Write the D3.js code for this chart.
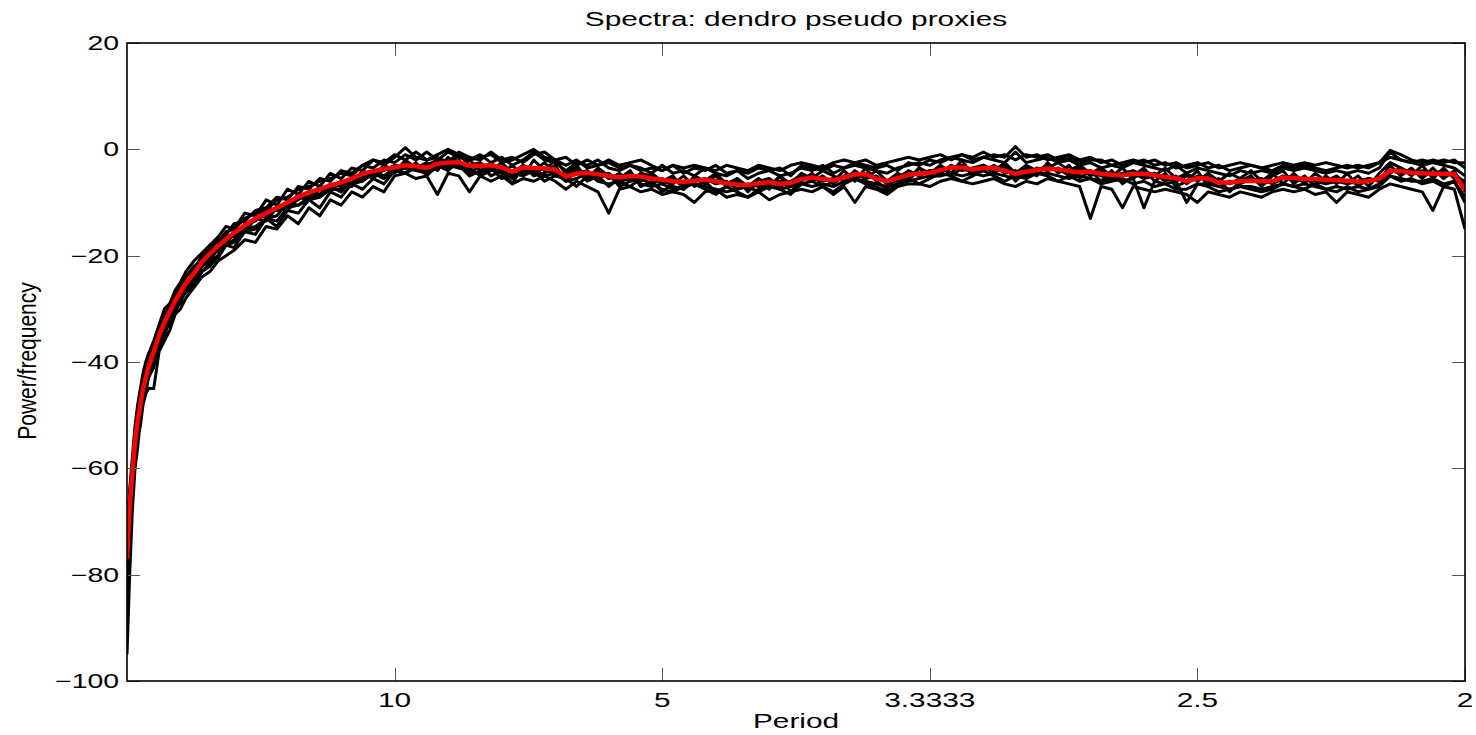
<!DOCTYPE html>
<html lang="en">
<head>
<meta charset="utf-8">
<title>Spectra: dendro pseudo proxies</title>
<script src="https://d3js.org/d3.v7.min.js"></script>
<style>
  body { margin: 0; background: #fff; }
  text { font-family: "Liberation Sans", Arial, sans-serif; fill: #000; }
</style>
</head>
<body>
<script>
// frequency (cycles/yr); period = 1/f
const freq = [
  0,0.001,0.002,0.003,0.004,0.005,0.006,0.007,0.008,0.010,
  0.012,0.014,0.016,0.018,0.020,0.022,0.025,0.028,0.031,0.034,
  0.037,0.040,0.044,0.048,0.052,0.056,0.060,0.064,0.068,0.072,
  0.076,0.080,0.084,0.088,0.092,0.096,0.100,0.104,0.108,0.112,
  0.116,0.120,0.124,0.128,0.132,0.136,0.140,0.144,0.148,0.152,
  0.156,0.160,0.164,0.168,0.172,0.176,0.180,0.184,0.188,0.192,
  0.196,0.200,0.204,0.208,0.212,0.216,0.220,0.224,0.228,0.232,
  0.236,0.240,0.244,0.248,0.252,0.256,0.260,0.264,0.268,0.272,
  0.276,0.280,0.284,0.288,0.292,0.296,0.300,0.304,0.308,0.312,
  0.316,0.320,0.324,0.328,0.332,0.336,0.340,0.344,0.348,0.352,
  0.356,0.360,0.364,0.368,0.372,0.376,0.380,0.384,0.388,0.392,
  0.396,0.400,0.404,0.408,0.412,0.416,0.420,0.424,0.428,0.432,
  0.436,0.440,0.444,0.448,0.452,0.456,0.460,0.464,0.468,0.472,
  0.476,0.480,0.484,0.488,0.492,0.496,0.500
];

// individual pseudo proxy spectra (dB)
const proxyA = [
  -95,-80,-68,-60,-56,-51,-47,-46,-43,-41,
  -36,-34,-33,-30,-29,-26,-25,-22,-21,-20,
  -18,-17,-15,-14.5,-13,-12.5,-10,-10.5,-9,-8.5,
  -7,-8,-6,-5.5,-4,-5,-3.5,-4.5,-2.5,-5,
  -3,-4,-2,-4.5,-3,-5,-4,-6.5,-3,-5,
  -4.5,-3,-6,-4,-6,-5,-7,-5.5,-4,-7,
  -6,-8,-6.5,-5,-7,-6,-8,-7,-5.5,-8,
  -6,-7.5,-5,-8,-6,-4.5,-7,-6,-4,-6,
  -3.5,-6,-7.5,-5,-6,-3.5,-5,-3,-4.5,-2,
  -5,-3,-4.5,-3,-6,-4,-5,-2.5,-4.5,-3,
  -5.5,-4,-6,-4,-6.5,-5,-3.5,-6,-4.5,-7,
  -6,-4,-7,-5.5,-8,-6,-5,-7,-5,-4,
  -6.5,-5,-7,-5,-6.5,-4.5,-7,-5.5,-6,-3,
  -5,-3.5,-5.5,-3.5,-5.5,-4,-8
];
const proxyB = [
  -84,-70,-62,-56,-50,-47,-44,-42,-40,-37,
  -35,-31,-30,-27,-26,-24,-22,-21,-18,-17.5,
  -15.5,-15,-13,-12,-11.5,-9.5,-9,-7.5,-7,-6,
  -5.5,-4.5,-5,-3,-3.5,-2,-2.5,-1,-2,-0.5,
  -2,-0.5,-1.5,-2,-1,-2.5,-1.5,-3,-2,-0.5,
  -2,-2.5,-4,-2.5,-3,-2,-3.5,-4,-3,-3.5,
  -4.5,-3,-4.5,-4,-5,-3.5,-4.5,-5,-4,-5.5,
  -4.5,-4,-5,-4.5,-3.5,-4,-3,-4.5,-3.5,-3,
  -3.5,-4,-4.5,-3.5,-3,-2.5,-3,-2,-1.5,-2,
  -2.5,-1.5,-2,-2.5,-0.5,-2.5,-2,-1.5,-2.5,-2,
  -3,-2.5,-3.5,-3,-3.5,-2.5,-3,-3.5,-4,-3,
  -4.5,-3.5,-4,-4.5,-5,-4,-4.5,-4,-4.5,-3.5,
  -4,-3.5,-4,-4.5,-4,-4.5,-4,-4.5,-3.5,-0.5,
  -2,-2.5,-3,-2.5,-3,-3.5,-5
];
const proxyC = [
  -80,-72,-64,-59,-54,-52,-48,-46,-45,-45,
  -38,-36,-34,-31,-30,-28,-26,-24,-23,-21,
  -20,-19,-17,-17.5,-14.5,-15,-12.5,-14,-11,-12.5,
  -9.5,-10.5,-8,-9,-7,-8,-5,-4.5,-5.5,-5,
  -8.5,-4.5,-5,-8,-5,-6,-5,-6.5,-5.5,-6,
  -5,-6,-7.5,-6,-7,-8,-12,-7.5,-7,-8,
  -7.5,-8.5,-8,-8.5,-10,-8,-7.5,-9,-8.5,-9,
  -8,-9.5,-8.5,-8,-7.5,-8,-7,-8.5,-7,-10,
  -7,-7.5,-8.5,-7,-6.5,-6.5,-7,-6,-5.5,-6,
  -6.5,-6,-5.5,-6.5,-7,-6,-6.5,-5.5,-6,-6.5,
  -7,-13,-7,-7.5,-11,-7,-7.5,-8,-7.5,-8,
  -8.5,-10,-8,-8.5,-9,-8,-8.5,-9,-8,-7.5,
  -8,-7.5,-8.5,-8,-10,-8,-8.5,-9,-7.5,-6.5,
  -7,-7.5,-8,-11.5,-7,-7.5,-15
];
const proxyD = [
  -78,-66,-60,-53,-50,-46,-44,-42,-40,-38.5,
  -34,-33,-31,-28,-27.5,-25,-24,-20.5,-20,-18.5,
  -16,-16.5,-14,-13.5,-11,-11.5,-10.5,-8.5,-9,-7,
  -7.5,-6,-6.5,-4,-5,-3,-4,-2.5,-4,-3,
  -2,-3.5,-1,-3,-2.5,-4,-2.5,-4.5,-3,-4,
  -2.5,-4.5,-5,-3.5,-5,-4,-5.5,-4.5,-6,-4.5,
  -5,-6.5,-5.5,-7,-5.5,-6.5,-5,-7,-6,-7.5,
  -6,-5.5,-7,-6,-5,-6,-5,-6.5,-5,-4.5,
  -5.5,-5,-6.5,-5.5,-4,-5,-4,-4.5,-3,-4,
  -3.5,-3,-4,-3.5,-4.5,-3.5,-4,-3,-4,-4.5,
  -3.5,-5,-4,-5,-4.5,-4,-5,-4.5,-6,-5,
  -6.5,-5,-6,-7,-6,-6.5,-5.5,-6.5,-6,-5,
  -6,-5.5,-6,-6.5,-6,-6.5,-6,-5.5,-6,-4,
  -4.5,-4,-5,-4.5,-4,-5,-6
];
const proxyE = [
  -76,-64,-58,-52,-48,-45,-42,-40,-38.5,-36,
  -33,-30,-29,-26.5,-25,-23,-21,-19.5,-18,-16.5,
  -14.5,-15,-12,-12.5,-9.5,-10.5,-7.5,-8.5,-6,-7,
  -4.5,-5.5,-3.5,-4,-2,-3,-1.5,0.3,-1.5,-2,
  -1,0,-1,-2,-1.5,-1,-2.5,-2,-1,0,
  -1.5,-2,-3,-2,-3.5,-3,-2.5,-3.5,-3,-4,
  -3.5,-4,-3,-4.5,-3.5,-4,-3,-4.5,-4,-4.5,
  -3.5,-4,-3.5,-5,-3,-3.5,-4,-3,-3.5,-2.5,
  -3,-3.5,-3,-4,-2.5,-3,-2,-2.5,-1.5,-1,
  -2,-1.5,-1,-1.5,0.5,-1.5,-1,-2,-1.5,-1,
  -2,-1.5,-2.5,-2,-3,-2.5,-2,-3,-2.5,-3.5,
  -3,-2.5,-3.5,-3,-4,-3.5,-3,-3.5,-4,-3,
  -3.5,-3,-3.5,-4,-3.5,-3,-3.5,-3,-2.5,-0.2,
  -1,-2,-2.5,-2,-2.5,-2,-3.5
];
const proxyF = [
  -74,-69,-63,-57,-53,-49,-47,-44,-42.5,-39,
  -37,-35,-32,-31,-28,-27,-25.5,-23,-22,-20,
  -18,-18.5,-15.5,-16,-13,-14.5,-11.5,-12,-9.5,-11,
  -8,-9,-6.5,-7.5,-5.5,-6.5,-4,-3.5,-4,-4.5,
  -3.5,-3,-3.5,-4,-4.5,-3.5,-4.5,-5,-4.5,-3.5,
  -5,-4.5,-6,-5.5,-4.5,-6,-6.5,-6,-5.5,-6.5,
  -7,-6.5,-7.5,-7,-6.5,-7,-7.5,-8,-7.5,-7,
  -8,-7,-7.5,-7,-6.5,-7,-6.5,-7,-6,-5.5,
  -6,-6.5,-7,-6.5,-6,-5.5,-5,-5,-4.5,-5,
  -4.5,-5,-4.5,-5,-5.5,-5,-4.5,-4.5,-5,-5.5,
  -5,-5.5,-6,-5.5,-6,-5.5,-11,-6,-6.5,-6,
  -10,-6.5,-6.5,-7,-7.5,-7,-7,-7.5,-7,-6.5,
  -7,-6.5,-7,-7.5,-7,-7.5,-7,-7.5,-7,-5,
  -5.5,-6,-6,-5.5,-6.5,-6,-9
];
const proxyG = [
  -72,-65,-59,-54,-49,-46,-43,-41,-39,-37,
  -34,-31.5,-29,-27.5,-25.5,-24,-22.5,-20,-19,-17,
  -16,-14,-13.5,-11.5,-11,-9,-9.5,-7,-7.5,-5.5,
  -6,-4,-4.5,-3,-2,-2.5,-1,-2,-0.5,-2,
  -1.5,-2.5,-0.5,-1.5,-2,-0.5,-2,-1.5,-2.5,-1,
  -0.5,-2,-1.5,-3,-2,-3,-2,-3,-2.5,-2,
  -3,-4,-3,-3.5,-3,-3.5,-4,-3,-3.5,-4,
  -3,-3.5,-4,-3,-2.5,-3,-3.5,-2.5,-2,-2.5,
  -2,-3,-2.5,-2,-1.5,-2,-1.5,-1,-2,-1,
  -1.5,-0.5,-1.5,-1,-2,-1,-1.5,-1,-2,-1.5,
  -2.5,-2,-2,-3,-2.5,-2,-2.5,-2,-3,-2.5,
  -3.5,-3,-2.5,-3.5,-3,-2.5,-3,-3.5,-3,-2.5,
  -3,-2.5,-3,-2.5,-3,-3.5,-3,-3.5,-2.5,-1.5,
  -2,-2.5,-2,-2.5,-2,-2.5,-2.5
];
const proxyH = [
  -79,-71,-65,-58,-52,-50,-46,-44.5,-42,-40,
  -36,-34,-31.5,-29.5,-27,-26,-23.5,-22,-20.5,-19,
  -17.5,-16,-15,-13,-12.5,-11,-10.5,-9.5,-8,-8.5,
  -6.5,-7,-5.5,-5,-4.5,-4,-3,-3.5,-3,-4,
  -3.5,-2.5,-3,-3.5,-5,-4,-3.5,-5.5,-4,-4.5,
  -3.5,-5,-5.5,-4.5,-4,-5.5,-4.5,-7,-6,-5.5,
  -6.5,-5.5,-7,-7.5,-6,-5.5,-6.5,-6,-7.5,-6.5,
  -7,-6.5,-6,-7,-5.5,-5,-6,-5.5,-5.5,-5,
  -4.5,-5.5,-6,-6,-5,-4.5,-4,-4,-3.5,-3,
  -4,-4,-3,-4.5,-4,-5,-3.5,-4,-3.5,-5,
  -4.5,-4,-5,-5.5,-5,-4.5,-5.5,-5,-5.5,-6,
  -5,-5.5,-5,-6,-6.5,-5.5,-6,-5.5,-6.5,-5.5,
  -5,-6,-5.5,-6,-5.5,-6,-6.5,-6,-5.5,-4.5,
  -3.5,-4.5,-4,-4.5,-5,-4.5,-6.5
];
const proxyI = [
  -88,-74,-64,-57,-52,-48,-45,-43,-41,-39,
  -35.5,-33,-32,-28.5,-28,-25,-24.5,-21.5,-21,-18.5,
  -17.5,-15.5,-15.5,-13,-13.5,-11,-11.5,-9,-9.5,-7.5,
  -8,-6,-7,-4.5,-5.5,-3.5,-4.5,-2,-3.5,-2.5,
  -4,-1.5,-3.5,-2,-4,-2.5,-4.5,-3,-5,-2,
  -4,-2,-4.5,-3,-5.5,-3.5,-5,-6.5,-4.5,-6,
  -4.5,-6,-5,-7.5,-5,-6,-4.5,-6.5,-5.5,-7,
  -5.5,-7,-5,-6.5,-4.5,-5.5,-4,-5,-6,-4,
  -5.5,-4,-6,-4.5,-5.5,-3.5,-4.5,-3,-5,-3.5,
  -4.5,-3,-4,-2.5,-4.5,-3,-4,-3.5,-2.5,-4,
  -3,-4.5,-3.5,-5,-3.5,-5.5,-4,-5,-3.5,-5.5,
  -4.5,-6,-4.5,-6,-4.5,-5.5,-4,-6,-4.5,-6.5,
  -4.5,-6.5,-4.5,-6,-5,-6.5,-5,-7,-4.5,-2.5,
  -3.5,-5,-3,-5.5,-3.5,-5.5,-7
];
const proxyJ = [
  -76,-69,-62,-57,-52,-50,-47,-44,-43,-40,
  -37,-33.5,-32,-29,-28.5,-26.5,-25,-23,-21.5,-20.5,
  -18,-17.5,-15.5,-15,-13,-13.5,-11,-10.5,-9.5,-9,
  -7.5,-7.5,-6.5,-6,-4.5,-5.5,-4,-4.5,-3.5,-4.5,
  -2.5,-3.5,-3,-5,-4,-3.5,-5.5,-4.5,-5,-4,
  -6,-5,-5.5,-7,-5,-5.5,-4.5,-6,-7,-5.5,
  -6.5,-7.5,-8,-7,-6.5,-7.5,-8.5,-7,-8,-9,
  -7.5,-6.5,-7.5,-8.5,-6.5,-6,-7,-8,-6.5,-5.5,
  -6.5,-7,-8,-6.5,-5.5,-6.5,-5.5,-4.5,-5,-6,
  -5,-4,-5,-6,-5,-5.5,-4.5,-5,-6,-5,
  -6,-5.5,-6.5,-6,-5.5,-6.5,-6,-7,-6.5,-7.5,
  -7.5,-6.5,-7,-8,-7.5,-7,-7.5,-8,-7.5,-6.5,
  -7,-7.5,-6.5,-7.5,-8,-7,-8,-7.5,-6.5,-5,
  -6,-5.5,-6.5,-6,-7,-6,-10
];

// ensemble mean spectrum (red)
const meanSpec = [
  -77,-67,-61,-55,-51,-48,-45,-43,-41,-38,
  -35,-32.5,-30.5,-28.5,-26.8,-25.2,-23.3,-21.2,-19.6,-18.2,
  -16.9,-15.7,-14.3,-13.0,-12.0,-11.0,-10.0,-8.9,-8.1,-7.5,
  -6.8,-6.2,-5.5,-4.6,-4.1,-3.7,-3.4,-3.0,-3.2,-3.5,
  -2.7,-2.5,-2.4,-3.1,-3.1,-3.0,-3.4,-4.2,-3.4,-3.5,
  -3.6,-3.8,-5.1,-4.6,-4.4,-4.7,-5.0,-5.3,-5.0,-5.1,
  -5.5,-5.7,-6.0,-6.1,-5.9,-5.7,-6.0,-6.4,-6.6,-6.7,
  -6.4,-6.2,-6.5,-6.3,-5.6,-5.3,-5.6,-5.8,-5.3,-4.7,
  -4.7,-5.5,-6.0,-5.4,-4.8,-4.6,-4.4,-3.9,-3.4,-3.4,
  -3.8,-3.5,-3.5,-4.0,-4.6,-4.2,-3.9,-3.6,-3.8,-4.1,
  -4.3,-4.2,-4.6,-4.8,-4.9,-4.6,-4.6,-4.9,-5.2,-5.4,
  -6.0,-5.4,-5.5,-6.2,-6.3,-6.0,-5.9,-6.0,-6.0,-5.3,
  -5.4,-5.6,-5.6,-5.7,-5.8,-5.9,-6.1,-6.0,-5.5,-4.0,
  -4.1,-4.4,-4.5,-4.6,-4.6,-4.7,-7.7
];

const yTicks = [-100, -80, -60, -40, -20, 0, 20];
const xTickFreqs = [0.1, 0.2, 0.3, 0.4, 0.5];
const xTickLabels = ["10", "5", "3.3333", "2.5", "2"];

const proxies = [proxyA, proxyB, proxyC, proxyD, proxyE, proxyF, proxyG, proxyH, proxyI, proxyJ];

const W = 1476, H = 735;
const L = 127, R = 1465, T = 43, B = 681;
const sx = 1.42; // horizontal stretch of the exported figure text

const x = d3.scaleLinear().domain([0, 0.5]).range([L, R]);
const y = d3.scaleLinear().domain([-100, 20]).range([B, T]);

const svg = d3.select("body").append("svg")
  .attr("width", W).attr("height", H);

svg.append("clipPath").attr("id", "clip")
  .append("rect").attr("x", L).attr("y", T).attr("width", R - L).attr("height", B - T);

const line = d3.line().x((d, i) => x(freq[i])).y(d => y(d));

const g = svg.append("g").attr("clip-path", "url(#clip)");
g.selectAll("path.proxy").data(proxies).join("path")
  .attr("class", "proxy")
  .attr("d", line)
  .attr("fill", "none")
  .attr("stroke", "#000")
  .attr("stroke-width", 3)
  .attr("stroke-linejoin", "round");

g.append("path").datum(meanSpec)
  .attr("d", line)
  .attr("fill", "none")
  .attr("stroke", "#ff0000")
  .attr("stroke-width", 4.5)
  .attr("stroke-linejoin", "round");

// ticks pointing inward on all four sides
const tickLen = 13;
const ticks = svg.append("g").attr("stroke", "#555").attr("stroke-width", 1);
yTicks.forEach(v => {
  const yy = Math.round(y(v)) + 0.5;
  ticks.append("line").attr("x1", L).attr("x2", L + tickLen).attr("y1", yy).attr("y2", yy);
  ticks.append("line").attr("x1", R).attr("x2", R - tickLen).attr("y1", yy).attr("y2", yy);
});
xTickFreqs.forEach(f => {
  const xx = Math.round(x(f)) + 0.5;
  ticks.append("line").attr("x1", xx).attr("x2", xx).attr("y1", B).attr("y2", B - tickLen);
  ticks.append("line").attr("x1", xx).attr("x2", xx).attr("y1", T).attr("y2", T + tickLen);
});

svg.append("rect")
  .attr("x", L).attr("y", T).attr("width", R - L).attr("height", B - T)
  .attr("fill", "none").attr("stroke", "#000").attr("stroke-width", 1.6);

function label(px, py, str, anchor, size) {
  svg.append("text")
    .attr("transform", `translate(${px},${py}) scale(${sx},1)`)
    .attr("text-anchor", anchor)
    .attr("font-size", size)
    .text(str);
}

const fmt = d3.format("d");
yTicks.forEach(v => label(119, y(v) + 7, fmt(v), "end", 20));
xTickFreqs.forEach((f, i) => label(x(f), 707, xTickLabels[i], "middle", 21));

label((L + R) / 2, 728, "Period", "middle", 21);
label((L + R) / 2, 26, "Spectra: dendro pseudo proxies", "middle", 21);

svg.append("text")
  .attr("transform", "translate(36,361) scale(1.25,1) rotate(-90)")
  .attr("text-anchor", "middle")
  .attr("font-size", 21)
  .text("Power/frequency");
</script>
</body>
</html>
